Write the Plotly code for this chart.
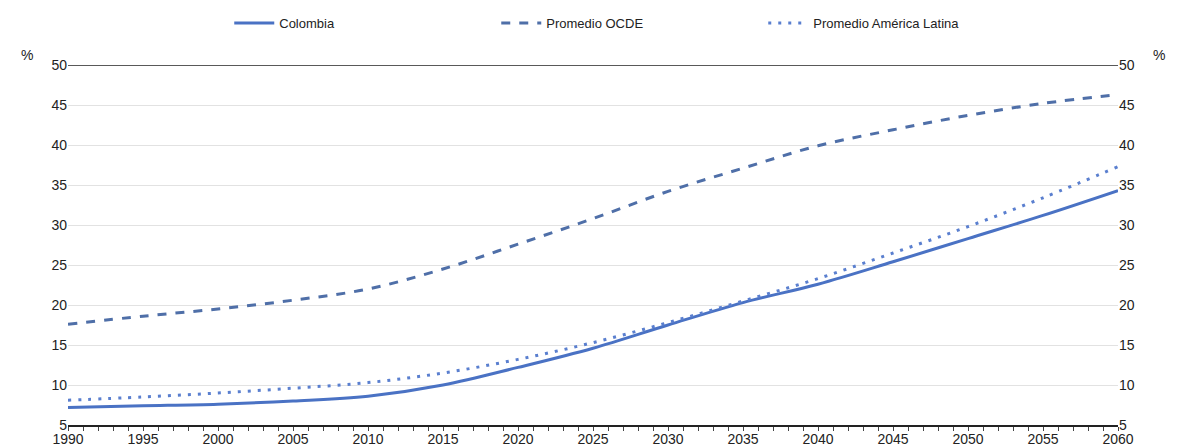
import plotly.graph_objects as go

years = [1990,1995,2000,2005,2010,2015,2020,2025,2030,2035,2040,2045,2050,2055,2060]
colombia = [7.2,7.4,7.6,8.0,8.6,10.0,12.2,14.6,17.5,20.3,22.6,25.4,28.3,31.2,34.3]
ocde = [17.6,18.6,19.5,20.6,22.0,24.5,27.6,30.8,34.2,37.1,39.9,41.9,43.7,45.2,46.3]
latam = [8.1,8.5,9.0,9.6,10.3,11.5,13.2,15.3,17.8,20.5,23.3,26.5,29.8,33.4,37.3]
yticks = [5,10,15,20,25,30,35,40,45,50]

c = "#4a72c4"
fig = go.Figure()
fig.add_trace(go.Scatter(x=years, y=colombia, name="Colombia", mode="lines",
                         line=dict(color=c, width=3), line_shape="spline"))
fig.add_trace(go.Scatter(x=years, y=ocde, name="Promedio OCDE", mode="lines",
                         line=dict(color="#4f6fa8", width=3, dash="dash"), line_shape="spline"))
fig.add_trace(go.Scatter(x=years, y=latam, name="Promedio América Latina", mode="lines",
                         line=dict(color="#5a7fcf", width=3, dash="3px,7px"), line_shape="spline"))
fig.add_trace(go.Scatter(x=years, y=ocde, yaxis="y2", mode="lines", line=dict(width=0),
                         showlegend=False, hoverinfo="skip", opacity=0))

font = dict(family="Liberation Sans, Arial", size=14, color="#222")
fig.update_layout(
    width=1165, height=438, plot_bgcolor="white", paper_bgcolor="white",
    margin=dict(l=60, r=55, t=57, b=21, autoexpand=False), font=font,
    legend=dict(orientation="h", x=0.535, xanchor="center", y=1.0, yref="container", yanchor="top",
                font=dict(size=13), itemwidth=40, entrywidth=212),
    xaxis=dict(range=[1990,2060], tickvals=years, ticks="",
               showline=True, linecolor="#222", linewidth=1.5, showgrid=False, zeroline=False,
               automargin=False,
               minor=dict(dtick=1, ticks="outside", ticklen=4, tickcolor="#444"),
               tickfont=dict(size=14)),
    yaxis=dict(range=[5,50], tickvals=yticks, showgrid=True, gridcolor="#e2e2e2", zeroline=False,
               showline=False, ticks="", tickfont=dict(size=14), automargin=False),
    yaxis2=dict(range=[5,50], tickvals=yticks, overlaying="y", side="right", showgrid=False,
                zeroline=False, showline=False, tickfont=dict(size=14), automargin=False),
    shapes=[dict(type="line", xref="paper", yref="y", x0=0, x1=1, y0=50, y1=50,
                 line=dict(color="#222", width=1.5))],
    annotations=[dict(text="%", xref="paper", yref="paper", x=-0.047, y=1.0, showarrow=False,
                      font=dict(size=14), yanchor="bottom"),
                 dict(text="%", xref="paper", yref="paper", x=1.047, y=1.0, showarrow=False,
                      font=dict(size=14), yanchor="bottom")],
)
fig.write_html("out.html")
